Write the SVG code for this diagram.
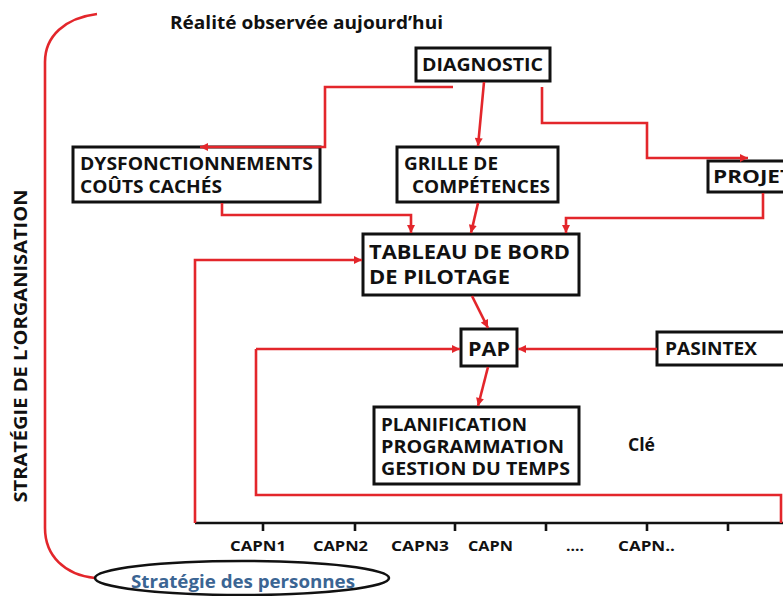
<svg xmlns="http://www.w3.org/2000/svg" width="783" height="596" viewBox="0 0 783 596">
<defs>
<style>
.t{font-family:"Open Sans","Liberation Sans",Arial,sans-serif;font-weight:700;fill:#111;}
.box{fill:#fff;stroke:#111;stroke-width:3;}
.red{fill:none;stroke:#e3262b;stroke-width:2.6;stroke-linejoin:miter;}
.arr{fill:none;stroke:#e3262b;stroke-width:2.6;marker-end:url(#ah);}
.blk{fill:none;stroke:#111;stroke-width:2.6;}
</style>
<marker id="ah" viewBox="0 0 10 10" refX="10" refY="5" markerWidth="9" markerHeight="8" markerUnits="userSpaceOnUse" orient="auto">
<path d="M0,0 L10,5 L0,10 Z" fill="#e3262b"/>
</marker>
</defs>
<rect width="783" height="596" fill="#fff"/>

<g id="bracket">
<path class="red" d="M97,14 C65,18 45,36 45,62 L45,528 C45,556 65,575 95,578"/>
</g>

<g id="title">
<text class="t" x="170" y="29" font-size="17" textLength="273" lengthAdjust="spacingAndGlyphs">Réalité observée aujourd’hui</text>
</g>

<g id="org-label">
<text class="t" font-size="17" text-anchor="middle" transform="translate(27,346) rotate(-90)" textLength="313" lengthAdjust="spacingAndGlyphs">STRATÉGIE DE L’ORGANISATION</text>
</g>

<g id="diagnostic">
<rect class="box" x="416" y="48" width="134" height="33"/>
<text class="t" x="422" y="71" font-size="18" textLength="121" lengthAdjust="spacingAndGlyphs">DIAGNOSTIC</text>
</g>

<g id="dysfonctionnements">
<rect class="box" x="73" y="147" width="247" height="55"/>
<text class="t" x="80" y="170" font-size="18" textLength="233" lengthAdjust="spacingAndGlyphs">DYSFONCTIONNEMENTS</text>
<text class="t" x="80" y="193" font-size="18" textLength="142" lengthAdjust="spacingAndGlyphs">COÛTS CACHÉS</text>
</g>

<g id="grille">
<rect class="box" x="397" y="147" width="161" height="55"/>
<text class="t" x="404" y="170" font-size="18" textLength="94" lengthAdjust="spacingAndGlyphs">GRILLE DE</text>
<text class="t" x="412" y="193" font-size="18" textLength="138" lengthAdjust="spacingAndGlyphs">COMPÉTENCES</text>
</g>

<g id="projet">
<rect class="box" x="708" y="161" width="90" height="31"/>
<text class="t" x="713" y="183" font-size="18" textLength="80" lengthAdjust="spacingAndGlyphs">PROJET</text>
</g>

<g id="tableau">
<rect class="box" x="363" y="234" width="216" height="61"/>
<text class="t" x="369" y="259" font-size="20" textLength="201" lengthAdjust="spacingAndGlyphs">TABLEAU DE BORD</text>
<text class="t" x="369" y="284" font-size="20" textLength="141" lengthAdjust="spacingAndGlyphs">DE PILOTAGE</text>
</g>

<g id="pap">
<rect class="box" x="461" y="329" width="56" height="37"/>
<text class="t" x="468" y="356" font-size="20" textLength="42" lengthAdjust="spacingAndGlyphs">PAP</text>
</g>

<g id="pasintex">
<rect class="box" x="657" y="332" width="140" height="33"/>
<text class="t" x="665" y="355" font-size="18" textLength="92" lengthAdjust="spacingAndGlyphs">PASINTEX</text>
</g>

<g id="planification">
<rect class="box" x="374" y="407" width="205" height="77"/>
<text class="t" x="381" y="431" font-size="18" textLength="146" lengthAdjust="spacingAndGlyphs">PLANIFICATION</text>
<text class="t" x="381" y="453" font-size="18" textLength="183" lengthAdjust="spacingAndGlyphs">PROGRAMMATION</text>
<text class="t" x="381" y="475" font-size="18" textLength="189" lengthAdjust="spacingAndGlyphs">GESTION DU TEMPS</text>
</g>

<g id="cle">
<text class="t" x="628" y="451" font-size="17" textLength="27" lengthAdjust="spacingAndGlyphs">Clé</text>
</g>

<g id="axis">
<line class="blk" x1="195" y1="523" x2="783" y2="523"/>
<path class="blk" d="M263,523 V531 M355,523 V531 M455,523 V531 M546,523 V531 M647,523 V531 M728,523 V531"/>
<text class="t" x="230" y="551" font-size="14" textLength="56" lengthAdjust="spacingAndGlyphs">CAPN1</text>
<text class="t" x="313" y="551" font-size="14" textLength="55" lengthAdjust="spacingAndGlyphs">CAPN2</text>
<text class="t" x="391" y="551" font-size="14" textLength="58" lengthAdjust="spacingAndGlyphs">CAPN3</text>
<text class="t" x="468" y="551" font-size="14" textLength="45" lengthAdjust="spacingAndGlyphs">CAPN</text>
<text class="t" x="566" y="551" font-size="14" textLength="18" lengthAdjust="spacingAndGlyphs">....</text>
<text class="t" x="618" y="551" font-size="14" textLength="57" lengthAdjust="spacingAndGlyphs">CAPN..</text>
</g>

<g id="strategie-personnes">
<ellipse cx="242" cy="578" rx="147" ry="17" fill="none" stroke="#111" stroke-width="2.6"/>
<text class="t" x="131" y="588" font-size="17" style="fill:#3b6593" textLength="224" lengthAdjust="spacingAndGlyphs">Stratégie des personnes</text>
</g>

<g id="connectors">
<polyline class="arr" points="453,87 325,87 325,147 200,147"/>
<line class="arr" x1="484" y1="82" x2="478" y2="146"/>
<polyline class="arr" points="542,87 542,123 647,123 647,158 748,158"/>
<polyline class="arr" points="222,203 222,215 411,215 411,233"/>
<line class="arr" x1="478" y1="203" x2="471" y2="233"/>
<polyline class="arr" points="763,193 763,218 566,218 566,233"/>
<polyline class="arr" points="195,523 195,260 362,260"/>
<line class="arr" x1="472" y1="296" x2="488" y2="328"/>
<line class="arr" x1="657" y1="349" x2="518" y2="349"/>
<polyline class="red" points="781,523 781,495 256,495 256,349"/>
<line class="arr" x1="256" y1="349" x2="460" y2="349"/>
<line class="arr" x1="488" y1="367" x2="478" y2="406"/>
</g>
</svg>
